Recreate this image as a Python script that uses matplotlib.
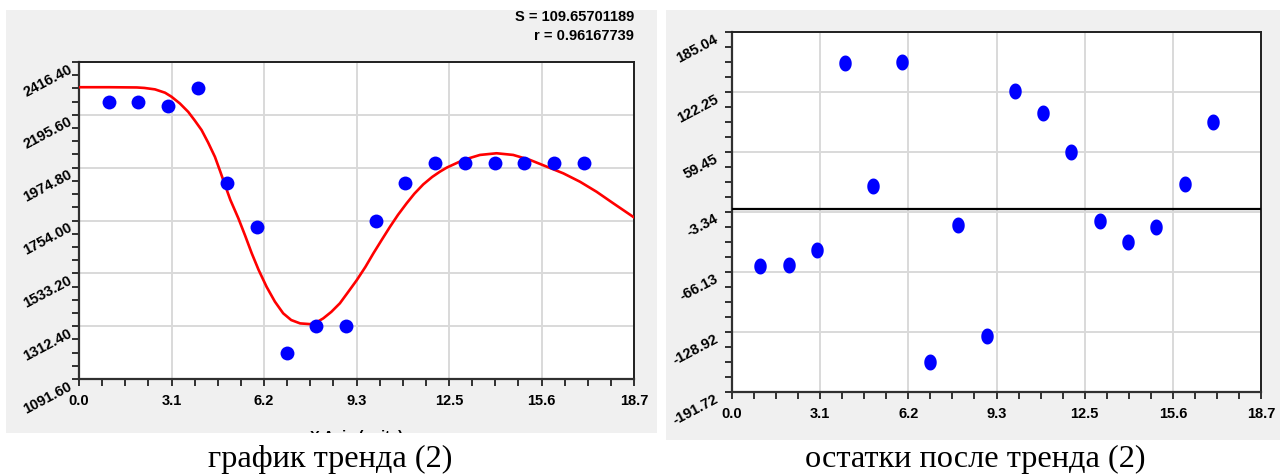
import numpy as np
import matplotlib
matplotlib.use("Agg")
import matplotlib.pyplot as plt
from matplotlib.patches import Rectangle
from matplotlib.path import Path
from matplotlib.ticker import AutoMinorLocator

W, H = 1285, 476

# -----------------------------------------------------------------------------
# Data
# -----------------------------------------------------------------------------
x_obs = list(range(1, 18))
y_obs = [2250, 2250, 2233, 2306, 1909, 1726, 1201, 1314, 1314, 1752, 1909,
         1996, 1996, 1996, 1996, 1996, 1996]

# fitted trend (2)
trend_x = [0.0, 1.0, 1.95, 2.2, 2.56, 2.9, 3.12, 3.4, 3.68, 3.9, 4.13, 4.35,
           4.58, 4.75, 4.92, 5.1, 5.37, 5.6, 5.82, 6.05, 6.32, 6.6, 6.88,
           7.15, 7.45, 7.78, 8.0, 8.23, 8.5, 8.79, 9.05, 9.36, 9.65, 9.92,
           10.2, 10.48, 10.75, 11.04, 11.3, 11.6, 11.9, 12.16, 12.39, 12.95,
           13.51, 14.07, 14.63, 15.2, 15.76, 16.32, 16.88, 17.44, 18.0, 18.7]
trend_y = [2311, 2311, 2310, 2308, 2302, 2288, 2271, 2243, 2208, 2172, 2132,
           2080, 2020, 1962, 1902, 1840, 1763, 1690, 1617, 1548, 1477, 1415,
           1366, 1338, 1324, 1321, 1328, 1345, 1372, 1408, 1452, 1505, 1560,
           1617, 1673, 1728, 1778, 1826, 1866, 1905, 1936, 1958, 1975, 2007,
           2028, 2035, 2028, 2007, 1979, 1951, 1916, 1874, 1826, 1767]

# residuals after trend (2)
resid = [-60.2, -58.5, -43.4, 152.3, 24.2, 154.0, -160.6, -16.9, -132.8,
         123.5, 100.0, 59.8, -12.4, -34.4, -18.7, 26.0, 90.5]

x_ticklabels = ["0.0", "3.1", "6.2", "9.3", "12.5", "15.6", "18.7"]
left_yticklabels = ["1091.60", "1312.40", "1533.20", "1754.00", "1974.80",
                    "2195.60", "2416.40"]
right_yticklabels = ["-191.72", "-128.92", "-66.13", "-3.34", "59.45",
                     "122.25", "185.04"]
fit_S = "S = 109.65701189"
fit_r = "r = 0.96167739"
caption_left = "график тренда (2)"
caption_right = "остатки после тренда (2)"

plt.rcParams["font.family"] = ["Liberation Sans", "DejaVu Sans"]
TICK_SIZE = 10.5


def fig_box(x0, y0, x1, y1):
    """pixel box (y from top) -> figure fraction [left, bottom, w, h]"""
    return [x0 / W, 1 - y1 / H, (x1 - x0) / W, (y1 - y0) / H]


def style_axes(ax, ylim, yticklabels, ypad):
    ax.set_facecolor("white")
    ax.set_xlim(0, 18.7)
    ax.set_ylim(*ylim)
    ax.set_xticks(np.linspace(0, 18.7, 7))
    ax.set_xticklabels(x_ticklabels)
    ax.set_yticks(np.linspace(ylim[0], ylim[1], 7))
    ax.set_yticklabels(yticklabels)
    ax.xaxis.set_minor_locator(AutoMinorLocator(4))
    ax.yaxis.set_minor_locator(AutoMinorLocator(4))
    ax.grid(True, which="major", color="#d9d9d9", linewidth=1.4)
    ax.set_axisbelow(True)
    for side in ("left", "bottom"):
        ax.spines[side].set_color("#303030")
        ax.spines[side].set_linewidth(1.6)
    for side in ("top", "right"):
        ax.spines[side].set_color("#202020")
        ax.spines[side].set_linewidth(1.4)
    ax.tick_params(which="both", direction="out", length=5, width=1.4,
                   color="#303030")
    ax.tick_params(axis="x", which="major", pad=6)
    ax.tick_params(axis="y", which="major", pad=ypad)
    for lab in ax.get_xticklabels():
        lab.set_fontsize(TICK_SIZE)
        lab.set_fontweight("bold")
    for lab in ax.get_yticklabels():
        lab.set_fontsize(TICK_SIZE)
        lab.set_fontweight("bold")
        lab.set_rotation(28)
        lab.set_rotation_mode("anchor")
        lab.set_ha("right")
        lab.set_va("top")


fig = plt.figure(figsize=(W / 100, H / 100), dpi=100)

# gray panel backgrounds
for box in [(6, 10, 657, 433), (666, 10, 1280, 440)]:
    l, b, w, h = fig_box(*box)
    fig.add_artist(Rectangle((l, b), w, h, transform=fig.transFigure,
                             facecolor="#f0f0f0", edgecolor="none", zorder=-1))

# ---- left: data + trend ----
ax1 = fig.add_axes(fig_box(79, 62, 634, 379))
ax1.plot(trend_x, trend_y, color="#ff0000", linewidth=1.9, zorder=3)
ax1.plot(x_obs, y_obs, linestyle="none", marker="o", markersize=10,
         color="#0000ff", markeredgewidth=0, zorder=4)
style_axes(ax1, (1091.6, 2416.4), left_yticklabels, ypad=3)

fig.text(634 / W, 1 - 17 / H, fit_S, ha="right", va="center",
         fontweight="bold", fontsize=10.5)
fig.text(634 / W, 1 - 36 / H, fit_r, ha="right", va="center",
         fontweight="bold", fontsize=10.5)

# x-axis title, mostly cut off by the lower edge of the panel
fig.text(357 / W, 1 - 430 / H, "X Axis (units)", ha="center", va="top",
         fontweight="bold", fontsize=10.5, zorder=1)
l, b, w, h = fig_box(0, 433, 660, 476)
fig.add_artist(Rectangle((l, b), w, h, transform=fig.transFigure,
                         facecolor="white", edgecolor="none", zorder=2))

# ---- right: residuals ----
t = np.linspace(0, 2 * np.pi, 64)
ellipse = Path(np.column_stack([0.78 * np.cos(t), np.sin(t)]), closed=True)

ax2 = fig.add_axes(fig_box(732, 32, 1261, 392))
ax2.axhline(0, color="black", linewidth=1.6, zorder=3)
ax2.plot(x_obs, resid, linestyle="none", marker=ellipse, markersize=11.5,
         color="#0000ff", markeredgewidth=0, zorder=4)
style_axes(ax2, (-191.72, 185.04), right_yticklabels, ypad=8)

# captions under the pictures
fig.text(330 / W, 1 - 459 / H, caption_left, ha="center", va="center",
         family="Liberation Serif", fontsize=23.3, zorder=3)
fig.text(975 / W, 1 - 459 / H, caption_right, ha="center", va="center",
         family="Liberation Serif", fontsize=23.3, zorder=3)

fig.savefig("out.png", dpi=100)
